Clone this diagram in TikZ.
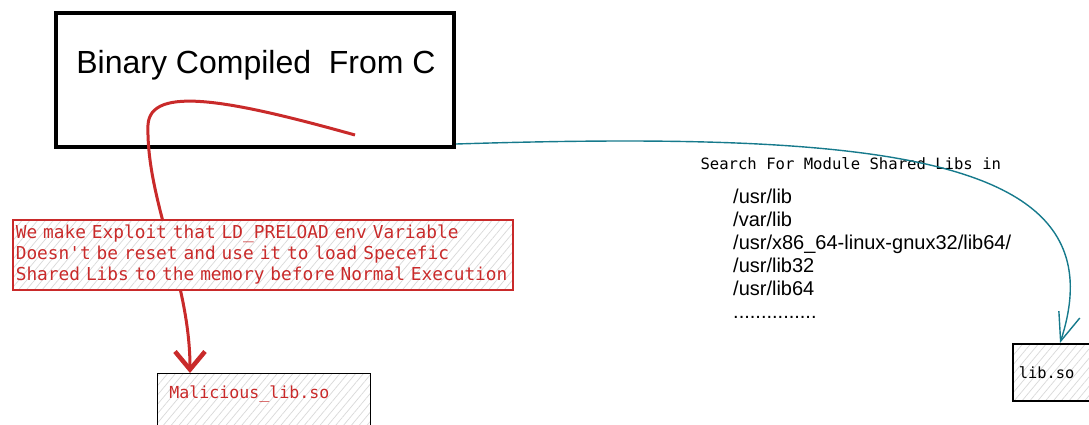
\documentclass[tikz,border=0pt]{standalone}
\usepackage{fontspec}
\setmainfont{Liberation Sans}
\setmonofont{DejaVu Sans Mono}
\usetikzlibrary{arrows.meta,patterns.meta,calc}
\definecolor{exred}{RGB}{201,42,42}
\definecolor{exteal}{RGB}{22,122,140}
\tikzset{
  hatch box/.style = {
    shape = rectangle,
    draw  = #1,
    line width = 1.6pt,
    preaction = {fill = white},
    pattern = {Lines[angle=50, distance=6pt, line width=0.7pt]},
    pattern color = gray!30,
    align = left,
    anchor = north west},
  mono text/.style = {font = \ttfamily\fontsize{#1}{21}\selectfont}
}

\begin{document}
\begin{tikzpicture}[x = 1pt, y = -1pt, >=latex]
  \useasboundingbox (0,0) rectangle (1089,424);
  \node[draw, line width = 4pt, minimum width = 398pt, minimum height = 134pt] (binary) at (255,80) {};
  \node[font = \fontsize{32}{38}\selectfont, anchor = base] (title) at (256,73) {Binary Compiled\ \ From C};
  \coordinate (hook) at (355,135);
  \node[hatch box = black, text = exred, mono text = 16.6, inner xsep = 12pt, inner ysep = 8pt,
        text width = 189pt, text height = 17pt, text depth = 30pt] (evil) at (157,373) {Malicious\_lib.so};
  \node[hatch box = black, mono text = 15.4, inner xsep = 6pt, text width = 72pt,
        minimum height = 57pt] (libso) at (1012,343) {lib.so};
  % red arrow goes under the note box
  \draw[exred, line width = 3pt, -{Straight Barb[length=18pt, width=30pt, line width=4.5pt]}]
        (hook) .. controls (230,100) and (150,85) .. (148,125)
        .. controls (146,200) and (190,280) .. ($(evil.north west)+(33,0)$);
  \node[hatch box = exred, text = exred, mono text = 17.8, inner xsep = 3pt, inner ysep = 2pt,
        text width = 494pt, minimum height = 70pt] (note) at (12,219)
        {We make Exploit that LD\_PRELOAD env Variable\\
         Doesn't be reset and use it to load Specefic\\
         Shared Libs to the memory before Normal Execution};
  \node[mono text = 15.6, anchor = west] (search) at (697,164) {Search For Module Shared Libs in};
  \node[font = \fontsize{20}{23}\selectfont, align = left, anchor = north west, inner sep = 0pt] (paths) at (733,189)
        {/usr/lib\\ /var/lib\\ /usr/x86\_64-linux-gnux32/lib64/\\ /usr/lib32\\ /usr/lib64\\ ...............};
  \draw[exteal, line width = 1.4pt, -{Straight Barb[length=28pt, width=22pt]}]
        ($(binary.south east)+(0,-5)$) .. controls (900,130) and (1120,160) .. ($(libso.north west)+(48,0)$);
\end{tikzpicture}
\end{document}
